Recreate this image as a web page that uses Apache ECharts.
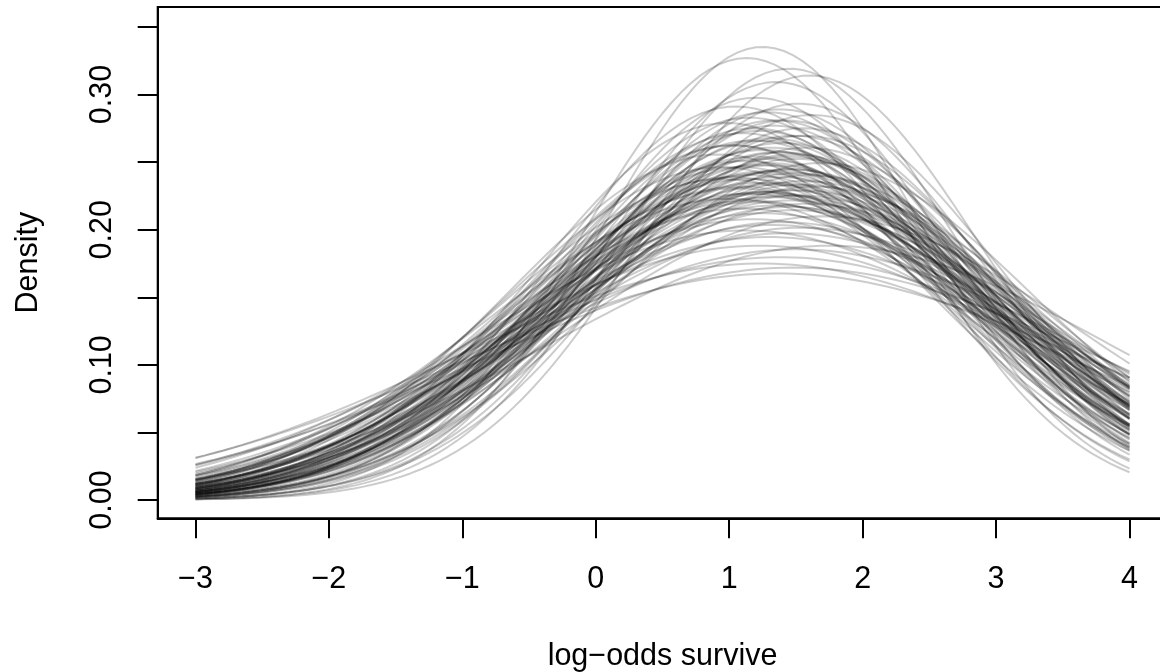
<!DOCTYPE html>
<html>
<head>
<meta charset="utf-8">
<script src="https://cdn.jsdelivr.net/npm/echarts@6/dist/echarts.min.js"></script>
<style>
html,body{margin:0;padding:0;background:#fff;}
#chart{width:1160px;height:672px;}
</style>
</head>
<body>
<div id="chart"></div>
<script>
// Each curve is a Normal density; parameters read (estimated) from the picture.
const curveMean = [
  1.25,1.13,1.45,1.60,1.35,1.20,1.52,1.05,1.38,1.28,
  1.62,1.15,1.42,0.98,1.33,1.55,1.22,1.10,1.48,1.30,
  1.18,1.40,1.02,1.58,1.26,1.36,0.92,1.46,1.24,1.12,
  1.68,1.32,1.08,1.44,1.27,1.50,1.16,1.38,0.96,1.56,
  1.22,1.34,1.64,1.06,1.42,1.28,1.14,1.52,1.31,1.00,
  1.46,1.20,1.58,1.36,1.10,1.48,1.26,1.70,1.18,1.40,
  1.32,1.54,1.12,1.44,1.30,1.75,1.22,1.50,1.38,1.24,
  1.48,1.36,1.34,1.18,1.56,1.28,1.04,1.40,1.20,1.50,
  1.30,0.94,1.46,1.24,1.60,1.14,1.36,1.08,1.52,1.26,
  1.42,1.16,1.32,1.48,1.22,1.38,1.02,1.54,1.28,1.44
];
const curveSd = [
  1.19,1.22,1.25,1.27,1.29,1.34,1.36,1.37,1.38,1.39,
  1.40,1.41,1.42,1.43,1.44,1.45,1.46,1.47,1.48,1.49,
  1.50,1.51,1.52,1.53,1.54,1.55,1.56,1.57,1.58,1.59,
  1.60,1.61,1.62,1.63,1.64,1.65,1.66,1.67,1.68,1.69,
  1.70,1.71,1.72,1.73,1.74,1.75,1.76,1.77,1.78,1.79,
  1.80,1.81,1.82,1.83,1.85,1.86,1.88,1.90,1.92,1.94,
  1.96,1.98,2.00,2.02,2.05,2.12,2.12,2.15,2.22,2.28,
  2.32,2.38,1.42,1.45,1.48,1.50,1.52,1.55,1.57,1.58,
  1.60,1.62,1.63,1.65,1.66,1.68,1.70,1.72,1.74,1.75,
  1.77,1.80,1.53,1.56,1.61,1.64,1.67,1.71,1.76,1.84
];
const xTicks = [-3,-2,-1,0,1,2,3,4];
const yTicks = [0,0.05,0.10,0.15,0.20,0.25,0.30,0.35];
const yLabels = [0,0.10,0.20,0.30];
const xLabelText = 'log\u2212odds survive';
const yLabelText = 'Density';

const X_FROM = -3, X_TO = 4, N_PTS = 101;
function dnorm(x, m, s){ const z=(x-m)/s; return Math.exp(-0.5*z*z)/(s*Math.sqrt(2*Math.PI)); }
const xs = [];
for (let k=0;k<N_PTS;k++) xs.push(X_FROM + (X_TO-X_FROM)*k/(N_PTS-1));

const series = curveMean.map((m,i)=>({
  type:'line',
  data: xs.map(x=>[x, dnorm(x, m, curveSd[i])]),
  showSymbol:false,
  silent:true,
  lineStyle:{color:'rgba(0,0,0,0.2)', width:2},
  z:2
}));

const FONT = 'Liberation Sans, Arial, Helvetica, sans-serif';
const FS = 30.5;
const fmtMinus = v => (v<0?'\u2212':'') + Math.abs(v);

const chart = echarts.init(document.getElementById('chart'), null, {renderer:'canvas'});
chart.setOption({
  animation:false,
  backgroundColor:'#fff',
  grid:{left:157.7, top:7, width:1009.6, height:511.3, show:true, borderColor:'#000', borderWidth:2,
        backgroundColor:'transparent', containLabel:false, outerBoundsMode:'none'},
  xAxis:{
    type:'value', min:-3.283, max:4.283,
    axisLine:{show:true, onZero:false, lineStyle:{color:'#000', width:2}},
    axisTick:{show:true, length:20, customValues:xTicks, lineStyle:{color:'#000', width:2}},
    axisLabel:{show:true, customValues:xTicks, formatter:fmtMinus, margin:46, color:'#000', fontSize:FS, fontFamily:FONT},
    splitLine:{show:false},
    name:xLabelText, nameLocation:'middle', nameGap:123,
    nameTextStyle:{color:'#000', fontSize:FS, fontFamily:FONT}
  },
  yAxis:{
    type:'value', min:-0.01354, max:0.3648,
    axisLine:{show:true, onZero:false, lineStyle:{color:'#000', width:2}},
    axisTick:{show:true, length:20, customValues:yTicks, lineStyle:{color:'#000', width:2}},
    axisLabel:{show:true, customValues:yLabels, rotate:90, formatter:v=>v.toFixed(2), margin:40, color:'#000', fontSize:FS, fontFamily:FONT},
    splitLine:{show:false},
    name:yLabelText, nameLocation:'middle', nameGap:114, nameRotate:90,
    nameTextStyle:{color:'#000', fontSize:FS, fontFamily:FONT}
  },
  series:series
});
</script>
</body>
</html>
